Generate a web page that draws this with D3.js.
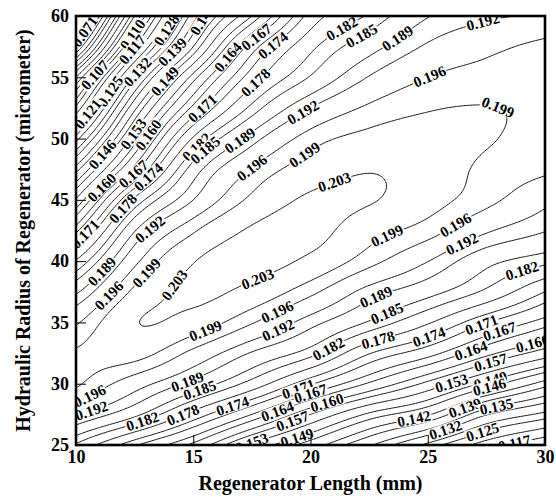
<!DOCTYPE html>
<html>
<head>
<meta charset="utf-8">
<script src="https://cdn.jsdelivr.net/npm/d3@7"></script>
<style>
  html, body { margin: 0; padding: 0; background: #fff; }
  svg { display: block; }
  text { font-family: "Liberation Serif", "Times New Roman", serif; font-weight: bold; fill: #000; }
</style>
</head>
<body>
<svg id="chart" width="556" height="497"></svg>
<script>
// Regenerator length (mm) at the grid columns
const lengthMm = [10, 12.5, 15, 17.5, 20, 22.5, 25, 27.5, 30];
// Hydraulic radius of the regenerator (micrometer) at the grid rows
const radiusUm = [25, 27.5, 30, 32.5, 35, 37.5, 40, 42.5, 45, 47.5, 50, 52.5, 55, 57.5, 60];
// Value at each node, one row per radius (bottom row first), one column per length
const valueGrid = [
  [0.1815, 0.1715, 0.1630, 0.1520, 0.1440, 0.1355, 0.1270, 0.1190, 0.1135],
  [0.1925, 0.1860, 0.1765, 0.1670, 0.1570, 0.1483, 0.1425, 0.1323, 0.1270],
  [0.1996, 0.1938, 0.1878, 0.1805, 0.1715, 0.1635, 0.1560, 0.1480, 0.1405],
  [0.1994, 0.2005, 0.1950, 0.1887, 0.1833, 0.1743, 0.1686, 0.1612, 0.1552],
  [0.1955, 0.2028, 0.2014, 0.1963, 0.1903, 0.1846, 0.1785, 0.1712, 0.1655],
  [0.1883, 0.1998, 0.2038, 0.2017, 0.1969, 0.1906, 0.1864, 0.1812, 0.1740],
  [0.1784, 0.1950, 0.2028, 0.2045, 0.2021, 0.1972, 0.1921, 0.1862, 0.1830],
  [0.1660, 0.1887, 0.1985, 0.2035, 0.2043, 0.2005, 0.1975, 0.1925, 0.1892],
  [0.1535, 0.1790, 0.1920, 0.1998, 0.2036, 0.2033, 0.2005, 0.1970, 0.1930],
  [0.1405, 0.1655, 0.1868, 0.1962, 0.2008, 0.2028, 0.2013, 0.1982, 0.1966],
  [0.1265, 0.1550, 0.1785, 0.1905, 0.1975, 0.2001, 0.2006, 0.1993, 0.1977],
  [0.1110, 0.1450, 0.1680, 0.1830, 0.1920, 0.1966, 0.1987, 0.1991, 0.1983],
  [0.0960, 0.1330, 0.1585, 0.1760, 0.1853, 0.1922, 0.1960, 0.1974, 0.1982],
  [0.0735, 0.1170, 0.1460, 0.1690, 0.1810, 0.1875, 0.1925, 0.1950, 0.1970],
  [0.0550, 0.1030, 0.1370, 0.1570, 0.1755, 0.1825, 0.1888, 0.1914, 0.1924]
];
// Contour levels
const levels = [0.071, 0.075, 0.078, 0.082, 0.085, 0.089, 0.092, 0.096, 0.100, 0.103,
  0.107, 0.110, 0.114, 0.117, 0.121, 0.125, 0.128, 0.132, 0.135, 0.139, 0.142, 0.146,
  0.149, 0.153, 0.157, 0.160, 0.164, 0.167, 0.171, 0.174, 0.178, 0.182, 0.185, 0.189,
  0.192, 0.196, 0.199, 0.203];
// Axis tick labels
const xTicks = [10, 15, 20, 25, 30];
const yTicks = [25, 30, 35, 40, 45, 50, 55, 60];
// Contour labels: level, and where along that line it sits (mm, micrometer)
const labelSpots = [
  [0.071, 10.30, 58.86], [0.110, 12.30, 58.61], [0.117, 12.43, 57.23], [0.128, 13.71, 59.02],
  [0.132, 12.60, 55.43], [0.139, 14.01, 57.23], [0.142, 15.50, 59.51], [0.149, 13.88, 54.53],
  [0.164, 16.44, 56.66], [0.107, 10.90, 55.02], [0.125, 11.58, 53.72], [0.121, 10.30, 52.33],
  [0.171, 15.29, 52.58], [0.178, 17.55, 54.78], [0.167, 17.72, 58.21], [0.174, 18.57, 57.23],
  [0.182, 21.39, 58.70], [0.185, 22.24, 58.21], [0.189, 23.69, 58.29], [0.192, 27.36, 59.27],
  [0.196, 25.10, 55.02], [0.199, 27.95, 52.33], [0.192, 19.68, 52.17], [0.196, 17.33, 48.09],
  [0.199, 19.68, 48.82], [0.189, 16.91, 50.10], [0.182, 15.16, 49.29], [0.185, 15.59, 48.88],
  [0.160, 13.03, 50.45], [0.153, 12.22, 50.70], [0.146, 10.90, 49.07], [0.167, 12.22, 47.57],
  [0.174, 12.86, 47.41], [0.160, 11.32, 45.56], [0.178, 11.88, 44.42], [0.171, 10.30, 42.30],
  [0.192, 13.28, 42.38], [0.189, 11.02, 39.28], [0.196, 11.32, 37.40], [0.199, 13.03, 39.03],
  [0.203, 13.88, 38.46], [0.203, 21.04, 46.38], [0.203, 17.76, 38.46], [0.199, 23.30, 41.89],
  [0.196, 26.25, 42.70], [0.192, 26.46, 41.32], [0.182, 29.06, 38.87], [0.196, 18.57, 35.85],
  [0.192, 18.57, 34.55], [0.189, 22.84, 36.83], [0.185, 23.26, 35.77], [0.199, 15.59, 34.14],
  [0.189, 14.73, 30.14], [0.185, 15.29, 29.49], [0.196, 10.60, 28.92], [0.192, 10.60, 28.02],
  [0.182, 12.86, 26.88], [0.178, 14.56, 27.61], [0.174, 16.70, 28.10], [0.182, 20.83, 32.59],
  [0.178, 22.88, 33.57], [0.174, 24.97, 34.14], [0.171, 27.31, 34.79], [0.167, 28.08, 34.22],
  [0.164, 26.89, 32.59], [0.160, 29.45, 33.32], [0.157, 27.65, 31.93], [0.153, 26.03, 29.90],
  [0.149, 27.65, 30.30], [0.146, 27.65, 29.65], [0.142, 24.33, 27.86], [0.139, 26.59, 28.10],
  [0.135, 27.95, 28.10], [0.132, 25.74, 26.47], [0.125, 27.36, 25.82], [0.117, 28.64, 25.57],
  [0.171, 19.42, 29.90], [0.167, 19.98, 29.32], [0.164, 18.57, 27.69], [0.160, 20.70, 28.67],
  [0.157, 19.25, 27.04], [0.153, 17.42, 25.65], [0.149, 19.34, 26.22]
];

const svg = d3.select("#chart");
const plot = { left: 76, right: 545, top: 16, bottom: 445 };
const x = d3.scaleLinear().domain([10, 30]).range([plot.left, plot.right]);
const y = d3.scaleLinear().domain([25, 60]).range([plot.bottom, plot.top]);

// Catmull-Rom bicubic surface through the grid nodes
const nI = lengthMm.length, nJ = radiusUm.length;
function node(i, j) {
  if (i < 0) return 2 * node(0, j) - node(1, j);
  if (i > nI - 1) return 2 * node(nI - 1, j) - node(nI - 2, j);
  if (j < 0) return 2 * node(i, 0) - node(i, 1);
  if (j > nJ - 1) return 2 * node(i, nJ - 1) - node(i, nJ - 2);
  return valueGrid[j][i];
}
function cubic(p0, p1, p2, p3, t) {
  return 0.5 * (2 * p1 + (-p0 + p2) * t + (2 * p0 - 5 * p1 + 4 * p2 - p3) * t * t +
    (-p0 + 3 * p1 - 3 * p2 + p3) * t * t * t);
}
function surface(mm, um) {
  let fi = (mm - lengthMm[0]) / (lengthMm[1] - lengthMm[0]);
  let fj = (um - radiusUm[0]) / (radiusUm[1] - radiusUm[0]);
  fi = Math.max(0, Math.min(nI - 1, fi));
  fj = Math.max(0, Math.min(nJ - 1, fj));
  const i = Math.min(Math.floor(fi), nI - 2), j = Math.min(Math.floor(fj), nJ - 2);
  const tx = fi - i, ty = fj - j;
  const r = [];
  for (let m = -1; m <= 2; m++) {
    r.push(cubic(node(i - 1, j + m), node(i, j + m), node(i + 1, j + m), node(i + 2, j + m), tx));
  }
  return cubic(r[0], r[1], r[2], r[3], ty);
}

// Sample the surface on a fine pixel lattice slightly larger than the plot
const step = 1.5, pad = 4;
const x0 = plot.left - pad, y0 = plot.top - pad;
const nx = Math.ceil((plot.right - plot.left + 2 * pad) / step) + 1;
const ny = Math.ceil((plot.bottom - plot.top + 2 * pad) / step) + 1;
const samples = new Float64Array(nx * ny);
for (let r = 0; r < ny; r++) {
  for (let c = 0; c < nx; c++) {
    samples[r * nx + c] = surface(x.invert(x0 + c * step), y.invert(y0 + r * step));
  }
}
const contours = d3.contours().size([nx, ny]).thresholds(levels)(samples);
const toPx = p => [x0 + (p[0] - 0.5) * step, y0 + (p[1] - 0.5) * step];

const ringsByLevel = new Map();
contours.forEach(c => {
  const rings = [];
  c.coordinates.forEach(poly => poly.forEach(ring => rings.push(ring.map(toPx))));
  ringsByLevel.set(c.value, rings);
});

svg.append("defs").append("clipPath").attr("id", "plot-clip")
  .append("rect")
  .attr("x", plot.left).attr("y", plot.top)
  .attr("width", plot.right - plot.left).attr("height", plot.bottom - plot.top);

const body = svg.append("g").attr("clip-path", "url(#plot-clip)");
body.append("rect")
  .attr("x", plot.left).attr("y", plot.top)
  .attr("width", plot.right - plot.left).attr("height", plot.bottom - plot.top)
  .attr("fill", "#fff");

const line = d3.line();
const lineLayer = body.append("g")
  .attr("fill", "none").attr("stroke", "#000").attr("stroke-width", 0.9);
levels.forEach(lv => {
  (ringsByLevel.get(lv) || []).forEach(ring => {
    lineLayer.append("path").attr("d", line(ring) + "Z");
  });
});

// Inline labels, snapped onto their contour and turned along it
const fmt = d3.format(".3f");
const labelLayer = body.append("g");
labelSpots.forEach(([lv, mm, um]) => {
  const rings = ringsByLevel.get(lv);
  if (!rings) return;
  const tx = x(mm), ty = y(um);
  let best = null, bestD = Infinity;
  rings.forEach(ring => ring.forEach((p, k) => {
    if (p[0] < plot.left || p[0] > plot.right || p[1] < plot.top || p[1] > plot.bottom) return;
    const d = (p[0] - tx) ** 2 + (p[1] - ty) ** 2;
    if (d < bestD) { bestD = d; best = { ring, k }; }
  }));
  if (!best) return;
  const n = best.ring.length;
  const p = best.ring[best.k];
  const a = best.ring[(best.k - 5 + n) % n], b = best.ring[(best.k + 5) % n];
  let ang = Math.atan2(b[1] - a[1], b[0] - a[0]) * 180 / Math.PI;
  if (ang > 90) ang -= 180;
  if (ang < -90) ang += 180;
  const g = labelLayer.append("g").attr("transform", `translate(${p[0]},${p[1]}) rotate(${ang})`);
  const bg = g.append("rect").attr("fill", "#fff");
  const t = g.append("text")
    .attr("text-anchor", "middle").attr("dy", "0.34em")
    .attr("font-size", 15).text(fmt(lv));
  const w = t.node().getComputedTextLength();
  bg.attr("x", -w / 2 - 1).attr("y", -6).attr("width", w + 2).attr("height", 12);
});

// Axes with inward ticks
const gx = svg.append("g").attr("transform", `translate(0,${plot.bottom})`);
gx.call(d3.axisBottom(x).tickValues(d3.range(10, 31, 1)).tickSizeInner(-6).tickSizeOuter(0).tickFormat(""));
gx.call(d3.axisBottom(x).tickValues(xTicks).tickSizeInner(-10).tickSizeOuter(0).tickPadding(5).tickFormat(d3.format("d")));
const gy = svg.append("g").attr("transform", `translate(${plot.left},0)`);
gy.call(d3.axisLeft(y).tickValues(d3.range(25, 61, 1)).tickSizeInner(-6).tickSizeOuter(0).tickFormat(""));
gy.call(d3.axisLeft(y).tickValues(yTicks).tickSizeInner(-10).tickSizeOuter(0).tickPadding(7).tickFormat(d3.format("d")));
svg.selectAll(".domain").remove();
svg.selectAll(".tick line").attr("stroke", "#000").attr("stroke-width", 1);
svg.selectAll(".tick text").attr("font-size", 18).attr("font-family", null);

// Frame
svg.append("rect")
  .attr("x", plot.left).attr("y", plot.top)
  .attr("width", plot.right - plot.left).attr("height", plot.bottom - plot.top)
  .attr("fill", "none").attr("stroke", "#000").attr("stroke-width", 2.6);

// Axis titles
svg.append("text")
  .attr("x", (plot.left + plot.right) / 2).attr("y", 490)
  .attr("text-anchor", "middle").attr("font-size", 20)
  .text("Regenerator Length (mm)");
svg.append("text")
  .attr("transform", `translate(30,${(plot.top + plot.bottom) / 2}) rotate(-90)`)
  .attr("text-anchor", "middle").attr("font-size", 20)
  .text("Hydraulic Radius of Regenerator (micrometer)");
</script>
</body>
</html>
